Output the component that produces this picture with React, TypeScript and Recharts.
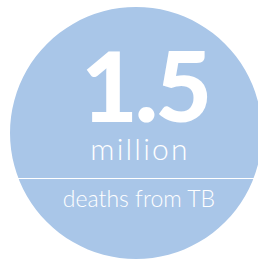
import { PieChart, Pie, Cell } from 'recharts';

// single-figure infographic
const headline = ['1.5'];
const unitLabel = ['million'];
const captionLabel = ['deaths from TB'];
const sliceValues = [1.5];

const BLUE = '#A9C6E8';

// drawn as the slice's label so it sits above the disc
const renderOverlay = () => (
  <g>
    <text x={145} y={122} textAnchor="middle" fill="#fff" fontFamily="Lato" fontWeight={900} fontSize={98} letterSpacing={-3}>
      {headline[0]}
    </text>
    <text x={140} y={160} textAnchor="middle" fill="#fff" fontFamily="Lato" fontWeight={300} fontSize={30} letterSpacing={2.2}>
      {unitLabel[0]}
    </text>
    <line x1={18} x2={258} y1={178.5} y2={178.5} stroke="#fff" strokeWidth={1.2} />
    <text x={139} y={207} textAnchor="middle" fill="#fff" fontFamily="Lato" fontWeight={300} fontSize={23}>
      {captionLabel[0]}
    </text>
  </g>
);

export default function App() {
  const data = sliceValues.map((v, i) => ({ name: captionLabel[i], value: v }));
  return (
    <div style={{ position: 'absolute', left: 0, top: 0, width: 258, height: 263, background: '#fff' }}>
      <PieChart width={258} height={263} margin={{ top: 0, right: 0, bottom: 0, left: 0 }}>
        <Pie
          data={data}
          dataKey="value"
          cx={136}
          cy={133}
          innerRadius={0}
          outerRadius={126}
          startAngle={0}
          endAngle={360}
          stroke="none"
          label={renderOverlay}
          labelLine={false}
          isAnimationActive={false}
        >
          {data.map((_, i) => (
            <Cell key={i} fill={BLUE} />
          ))}
        </Pie>
      </PieChart>
    </div>
  );
}
